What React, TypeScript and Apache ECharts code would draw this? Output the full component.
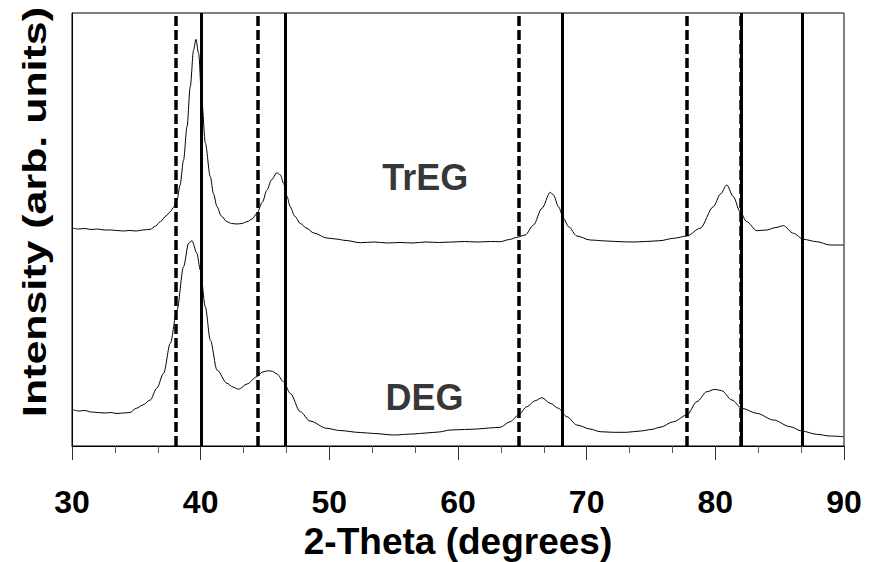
import React, { useEffect, useRef } from "react";
import * as echarts from "echarts";

// 2-Theta positions (degrees) and intensities (arb. units)
const tregTheta = [
  30.0, 30.5, 31.0, 31.5, 32.0, 32.5, 33.0, 33.5, 34.0, 34.5, 35.0, 35.5, 36.08, 36.5, 36.86, 37.3, 37.64, 37.9,
  38.16, 38.4, 38.67, 38.94, 39.19, 39.45, 39.63, 39.84, 40.1, 40.36, 40.75, 41.0, 41.27, 41.6, 42.04, 42.4,
  42.82, 43.2, 43.6, 44.0, 44.37, 44.8, 45.15, 45.5, 45.93, 46.2, 46.44, 46.7, 46.96, 47.3, 47.74, 48.2, 48.8,
  49.8, 50.5, 51.3, 52.4, 53.5, 54.5, 55.5, 56.5, 57.5, 58.5, 59.5, 60.5, 61.5, 62.5, 63.28, 64.0, 64.58,
  65.22, 65.87, 66.52, 67.17, 67.42, 67.81, 68.2, 68.59, 69.24, 70.27, 71.57, 72.6, 73.6, 74.6, 75.7, 76.75,
  77.79, 78.82, 79.85, 80.4, 80.89, 81.4, 81.92, 82.44, 83.22, 84.0, 84.64, 85.29, 86.07, 86.84, 87.88, 88.92,
  89.95,
];
const tregIntensity = [
  218, 217, 217.5, 216.5, 217, 216, 216, 215.5, 215, 215.5, 215, 216, 216.7, 220, 224.3, 230, 234.3, 239,
  246, 261, 286, 319.3, 359.3, 396, 406.7, 392.7, 343, 303, 269.3, 252, 239.3, 230, 224.3, 222.5,
  222, 222.5, 224.3, 227, 232.7, 244, 256, 266, 273.3, 271, 262.7, 250, 239.3, 230, 222.7, 218, 213,
  208, 207, 205.5, 203.3, 204, 203, 203.5, 203, 204, 203.5, 204, 204.5, 204, 204.5, 204.3, 206.5, 208.7,
  211, 221, 237.7, 253.7, 251, 239.3, 227.7, 219.3, 210, 206, 205, 204.3, 204, 204.5, 205.3, 207.7,
  210, 217.7, 239.3, 252, 261, 249.3, 234.3, 224.3, 215.3, 216, 218.3, 220.3, 212.7, 206.7, 204.3, 201,
  201,
];

const degTheta = [
  30.0, 30.5, 31.0, 31.5, 32.0, 32.5, 33.0, 33.5, 34.0, 34.5, 35.0, 35.5, 36.08, 36.6, 37.12, 37.64, 38.16,
  38.67, 39.06, 39.32, 39.71, 39.97, 40.36, 40.75, 41.27, 42.04, 42.5, 42.95, 43.6, 44.37, 44.8, 45.28, 45.6,
  45.93, 46.44, 46.96, 47.74, 48.5, 49.8, 50.8, 52.4, 53.5, 55.0, 56.5, 57.5, 58.5, 59.4, 60.5, 61.5, 62.4,
  63.28, 64.06, 64.7, 65.35, 66.0, 66.52, 67.17, 67.81, 68.46, 69.24, 70.27, 71.05, 72.08, 73.1, 74.2, 75.0,
  75.7, 76.75, 77.79, 78.56, 79.34, 79.98, 80.5, 81.28, 82.06, 83.22, 84.52, 85.81, 86.72, 87.88, 88.92, 89.95,
];
const degIntensity = [
  36.7, 35, 35.5, 34, 33.5, 33, 33.5, 32.5, 33, 33.5, 37.7, 41, 46, 58, 72.7, 102.7, 136,
  179.3, 202.7, 205.3, 192.7, 176, 139.3, 106, 76, 62.7, 59, 56.7, 62, 69.3, 74, 75.3, 74.5,
  72, 64.3, 52.7, 34.3, 25, 17.7, 15.5, 13.5, 12.5, 11, 12, 13, 14, 16, 16.5, 17, 18,
  18.7, 24.3, 31, 39.3, 45.3, 48.3, 42.7, 37.7, 29.3, 21, 17, 14.3, 13.7, 13.7, 15, 16.5,
  18.7, 24.3, 31, 44.3, 54.3, 56.7, 55.3, 46, 37.7, 32.7, 26, 19.3, 15, 11.7, 10, 9.3,
];

// reference peak positions
const dashedRefs = [38.1, 44.4, 64.7, 77.8, 81.95];
const solidRefs = [40.05, 46.6, 68.1, 82.05, 86.75];

const xTicksMin = 30;
const xTicksMax = 90;
const xInterval = 10;
const yMax = 433;

const seriesLabels = [
  { name: "TrEG", theta: 57.45, intensity: 269 },
  { name: "DEG", theta: 57.4, intensity: 49 },
];

const FONT = "'Liberation Sans', Arial, sans-serif";

export default function App() {
  const ref = useRef<HTMLDivElement>(null);
  useEffect(() => {
    if (!ref.current) return;
    const chart = echarts.init(ref.current, undefined, { renderer: "svg" });
    const zip = (xs: number[], ys: number[]) => xs.map((x, i) => [x, ys[i]]);
    const option: any = {
      animation: false,
      backgroundColor: "#ffffff",
      grid: {
        left: 72,
        right: 26,
        top: 13,
        bottom: 116,
        containLabel: false,
        outerBoundsMode: "none",
        show: true,
        borderColor: "#000",
        borderWidth: 1,
        backgroundColor: "transparent",
      },
      xAxis: {
        type: "value",
        min: xTicksMin,
        max: xTicksMax,
        interval: xInterval,
        name: "2-Theta (degrees)",
        nameLocation: "middle",
        nameGap: 74,
        nameTextStyle: { fontFamily: FONT, fontWeight: "bold", fontSize: 37, color: "#000" },
        axisLine: { show: true, onZero: false, lineStyle: { color: "#000", width: 1 } },
        axisTick: { show: true, inside: false, length: 14, lineStyle: { color: "#333", width: 1 } },
        minorTick: { show: true, splitNumber: 3, length: 7, lineStyle: { color: "#555", width: 1 } },
        axisLabel: { fontFamily: FONT, fontWeight: "bold", fontSize: 32, color: "#000", margin: 40 },
        splitLine: { show: false },
        minorSplitLine: { show: false },
      },
      yAxis: {
        type: "value",
        min: 0,
        max: yMax,
        axisLine: { show: true, onZero: false, lineStyle: { color: "#000", width: 1 } },
        axisTick: { show: false },
        axisLabel: { show: false },
        splitLine: { show: false },
      },
      graphic: [
        {
          type: "text",
          x: 34,
          y: 212,
          rotation: Math.PI / 2,
          scaleX: 1.3,
          style: {
            text: "Intensity (arb. units)",
            fontFamily: FONT,
            fontWeight: "bold",
            fontSize: 33,
            fill: "#000",
            align: "center",
            verticalAlign: "middle",
          },
        },
      ],
      series: [
        {
          name: "TrEG",
          type: "line",
          data: zip(tregTheta, tregIntensity),
          symbol: "none",
          smooth: 0.3,
          smoothMonotone: "x",
          lineStyle: { color: "#000", width: 1 },
          z: 5,
        },
        {
          name: "DEG",
          type: "line",
          data: zip(degTheta, degIntensity),
          symbol: "none",
          smooth: 0.3,
          smoothMonotone: "x",
          lineStyle: { color: "#000", width: 1 },
          z: 5,
        },
        {
          name: "refs-dashed",
          type: "line",
          data: [],
          silent: true,
          markLine: {
            silent: true,
            symbol: "none",
            label: { show: false },
            lineStyle: { color: "#000", width: 3.5, type: [10, 4] },
            data: dashedRefs.map((v) => ({ xAxis: v })),
          },
          z: 4,
        },
        {
          name: "refs-solid",
          type: "line",
          data: [],
          silent: true,
          markLine: {
            silent: true,
            symbol: "none",
            label: { show: false },
            lineStyle: { color: "#000", width: 3, type: "solid" },
            data: solidRefs.map((v) => ({ xAxis: v })),
          },
          z: 4,
        },
        {
          name: "labels",
          type: "scatter",
          symbolSize: 0,
          silent: true,
          data: seriesLabels.map((d) => ({ value: [d.theta, d.intensity], name: d.name })),
          label: {
            show: true,
            position: "inside",
            formatter: (p: any) => p.name,
            fontFamily: FONT,
            fontWeight: "bold",
            fontSize: 36,
            color: "#000",
          },
          z: 6,
        },
      ],
    };
    chart.setOption(option);
    return () => chart.dispose();
  }, []);
  return (
    <div
      ref={ref}
      style={{ position: "fixed", left: 0, top: 0, width: 870, height: 562, background: "#fff" }}
    />
  );
}
